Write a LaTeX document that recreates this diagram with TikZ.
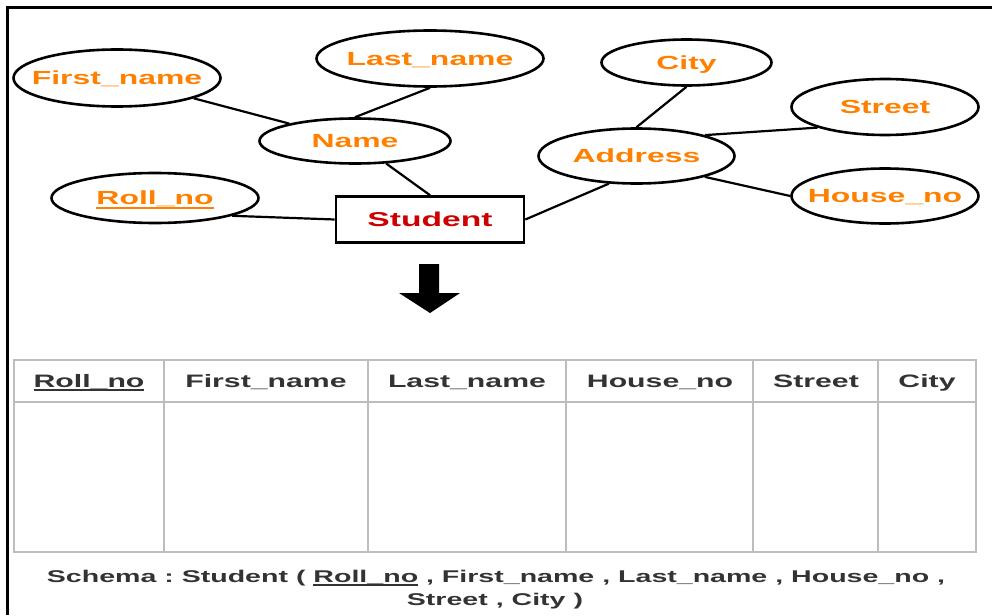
\documentclass[tikz,border=0pt]{standalone}
\usepackage{fontspec}
\usepackage{tikz}
\usetikzlibrary{shapes.geometric}
\newfontfamily\erfont[FakeStretch=1.68]{Liberation Sans}
\frenchspacing
\definecolor{attrorange}{HTML}{FF8000}
\definecolor{entityred}{HTML}{CC0000}
\definecolor{darktext}{HTML}{333333}
\definecolor{gridgray}{HTML}{BDBDBD}
% underline for the key attribute
\newcommand{\keyattr}[1]{\setbox0\hbox{#1}\rlap{\rule[-0.21em]{\wd0}{0.075em}}\box0\relax}
\tikzset {
  x=1pt, y=-1pt,
  % attribute ellipses, sized by hand (text kept out of the size)
  attr/.style = {draw, ellipse, line width=2.6pt, inner sep=0pt, text=attrorange,
    font=\erfont\bfseries\fontsize{19}{23}\selectfont, text height=13.6pt, text depth=0pt,
    execute at begin node={\hbox to 0pt\bgroup\hss}, execute at end node={\hss\egroup}},
  % the entity box
  entity/.style = {draw, rectangle, line width=2.6pt, text=entityred,
    minimum width=188, minimum height=46,
    font=\erfont\bfseries\fontsize{20}{24}\selectfont, text height=14.3pt, text depth=0pt},
  link/.style = {line width=2.2pt},
  % relation table
  grid/.style = {gridgray, line width=1.8pt},
  head/.style = {anchor=base, text=darktext, font=\erfont\bfseries\fontsize{18}{22}\selectfont},
  schema/.style = {anchor=base, text=darktext, font=\erfont\bfseries\fontsize{17}{21}\selectfont},
}

\begin{document}
\begin{tikzpicture}
  \useasboundingbox (0,0) rectangle (992,615);
  \draw [line width=3pt] (7,615) -- (7,8) -- (992,8);

  \node[attr, minimum width=207, minimum height=57] (fname) at (117,78) {First\_name};
  \node[attr, minimum width=227, minimum height=56] (lname) at (430,58.5) {Last\_name};
  \node[attr, minimum width=191, minimum height=45] (name) at (355,141) {Name};
  \node[attr, minimum width=207, minimum height=50] (roll) at (155,198) {\keyattr{Roll\_no}};
  \node[entity] (student) at (430,219.5) {Student};
  \node[attr, minimum width=170, minimum height=46] (city) at (686.5,62.5) {City};
  \node[attr, minimum width=196, minimum height=55] (addr) at (636.5,156) {Address};
  \node[attr, minimum width=187, minimum height=56] (street) at (885,107) {Street};
  \node[attr, minimum width=187, minimum height=55] (house) at (885,196) {House\_no};

  \draw [link] (fname) -- (name);
  \draw [link] (lname.south) -- (name.north);
  \draw [link] (name) -- (student.north);
  \draw [link] (roll.-13) -- (student.west);
  \draw [link] (student.east) -- (addr.-135);
  \draw [link] (addr.north) -- (city.south);
  \draw [link] (addr.17) -- (street.197);
  \draw [link] (addr.-17) -- (house.west);

  % block arrow down to the table
  \fill (419,264) -- (439,264) -- (439,293) -- (460,293) -- (430,313) -- (399,293) -- (419,293) -- cycle;

  \draw [grid] (14,360) rectangle (976,552);
  \draw [grid] (14,402) -- (976,402);
  \foreach \x in {164,368,566,753,878}
    \draw [grid] (\x,360) -- (\x,552);
  \foreach \x/\t [count=\i] in {89/\keyattr{Roll\_no}, 266/First\_name, 467/Last\_name,
      660/House\_no, 816/Street, 927/City}
    \node[head] (col\i) at (\x,387) {\t};

  \node[schema] (schema1) at (496,582) {Schema : Student ( \keyattr{Roll\_no} , First\_name , Last\_name , House\_no ,};
  \node[schema] (schema2) at (495,605) {Street , City )};
\end{tikzpicture}
\end{document}
